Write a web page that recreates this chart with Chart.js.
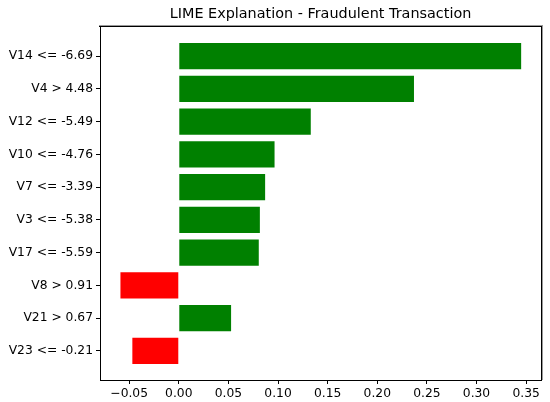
<!DOCTYPE html>
<html>
<head>
<meta charset="utf-8">
<script src="https://cdn.jsdelivr.net/npm/chart.js@4/dist/chart.umd.min.js"></script>
<style>
  html, body { margin: 0; padding: 0; background: #fff; }
</style>
</head>
<body>
<canvas id="limeChart" width="550" height="402"></canvas>
<script>
// LIME feature weights, top to bottom
const features = [
    "V14 <= -6.69",
    "V4 > 4.48",
    "V12 <= -5.49",
    "V10 <= -4.76",
    "V7 <= -3.39",
    "V3 <= -5.38",
    "V17 <= -5.59",
    "V8 > 0.91",
    "V21 > 0.67",
    "V23 <= -0.21",
];
const weights = [0.345, 0.237, 0.133, 0.0965, 0.087, 0.0817, 0.0806, -0.0588, 0.0527, -0.0468];
const xTicks = [-0.05, 0, 0.05, 0.1, 0.15, 0.2, 0.25, 0.3, 0.35];
const chartTitle = "LIME Explanation - Fraudulent Transaction";

const font = { family: "'DejaVu Sans', sans-serif", size: 12.3 };

// title centred over the plot area and the top/right edges of the frame
const framePlugin = {
    id: "frame",
    afterDraw(chart) {
        const { ctx, chartArea: a } = chart;
        const l = Math.round(a.left), r = Math.round(a.right);
        const t = Math.round(a.top), b = Math.round(a.bottom);
        ctx.save();
        ctx.fillStyle = "#999";
        ctx.fillRect(l - 1, t - 2, r - l + 3, 1);
        ctx.fillRect(r + 1, t - 2, 1, b - t + 2);
        ctx.fillStyle = "#000";
        ctx.fillRect(l - 1, t - 1, r - l + 2, 1);
        ctx.fillRect(r, t - 1, 1, b - t + 1);
        ctx.font = "14.4px 'DejaVu Sans', sans-serif";
        ctx.textAlign = "center";
        ctx.textBaseline = "middle";
        ctx.fillText(chartTitle, (a.left + a.right) / 2, 14);
        ctx.restore();
    },
};

new Chart(document.getElementById("limeChart"), {
    type: "bar",
    data: {
        datasets: [
            {
                data: weights.map((w, i) => ({ x: w, y: i })),
                backgroundColor: weights.map((w) => (w >= 0 ? "#008000" : "#ff0000")),
                borderWidth: 0,
                barPercentage: 0.8,
                categoryPercentage: 1,
            },
        ],
    },
    options: {
        indexAxis: "y",
        responsive: false,
        animation: false,
        layout: { padding: { top: 27, right: 9, bottom: 0, left: 0 } },
        plugins: {
            legend: { display: false },
            tooltip: { enabled: false },
            title: { display: false },
        },
        scales: {
            x: {
                type: "linear",
                min: -0.0794,
                max: 0.365,
                afterBuildTicks: (s) => { s.ticks = xTicks.map((v) => ({ value: v })); },
                afterFit: (s) => { s.height = 22; },
                ticks: {
                    color: "#000",
                    font: font,
                    padding: 2,
                    maxRotation: 0,
                    callback: (v) => (v < 0 ? "\u2212" : "") + Math.abs(v).toFixed(2),
                },
                grid: { drawOnChartArea: false, drawTicks: true, tickLength: 4, color: "#000" },
                border: { display: true, color: "#000" },
            },
            y: {
                type: "linear",
                reverse: true,
                offset: false,
                min: -0.89,
                max: 9.89,
                afterBuildTicks: (s) => { s.ticks = features.map((_, i) => ({ value: i })); },
                afterFit: (s) => { s.width = 100; },
                ticks: {
                    color: "#000",
                    font: font,
                    padding: 3,
                    callback: (v) => features[v],
                },
                grid: { offset: false, drawOnChartArea: false, drawTicks: true, tickLength: 4, color: "#000" },
                border: { display: true, color: "#000" },
            },
        },
    },
    plugins: [framePlugin],
});
</script>
</body>
</html>
